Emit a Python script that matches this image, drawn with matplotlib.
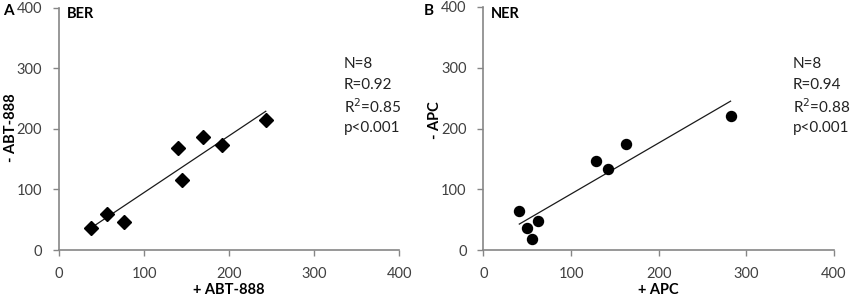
import numpy as np
import matplotlib.pyplot as plt

plt.rcParams['font.family'] = ['Lato', 'DejaVu Sans']

# Panel A: BER, +/- ABT-888
ber_plus = [38, 56, 76, 140, 144, 169, 192, 243]
ber_minus = [36, 60, 46, 169, 116, 187, 173, 214]
ber_stats = ["N=8", "R=0.92", "R$^2$=0.85", "p<0.001"]

# Panel B: NER, +/- APC
ner_plus = [41, 50, 55, 62, 129, 142, 163, 282]
ner_minus = [65, 37, 19, 47, 146, 133, 174, 221]
ner_stats = ["N=8", "R=0.94", "R$^2$=0.88", "p<0.001"]

ticks = [0, 100, 200, 300, 400]
AXIS_GREY = "#868686"
TEXT_GREY = "#404040"
W, H = 851, 302


def fx(px):
    return px / W


def fy(py):
    return 1 - py / H


def draw_panel(fig, ax, x, y, marker, letter, title, xlabel, ylabel, stats,
               x0, stats_x, ylab_x, ylab_y):
    ax.plot(x, y, linestyle="none", marker=marker, color="black",
            markersize=7.2 if marker == "o" else 6.8, zorder=3)

    # linear trendline over the data range
    slope, icpt = np.polyfit(x, y, 1)
    xs = np.array([min(x), max(x)])
    ax.plot(xs, slope * xs + icpt, color="#1a1a1a", linewidth=0.9, zorder=2)

    ax.set_xlim(0, 400)
    ax.set_ylim(0, 400)
    ax.set_xticks(ticks)
    ax.set_yticks(ticks)
    ax.tick_params(colors=AXIS_GREY, labelcolor=TEXT_GREY, labelsize=10.5,
                   length=4, width=1, direction="out", pad=8)
    for side in ("top", "right"):
        ax.spines[side].set_visible(False)
    for side in ("left", "bottom"):
        ax.spines[side].set_color(AXIS_GREY)
        ax.spines[side].set_linewidth(1.2)

    bbox = ax.get_position()
    fig.text((bbox.x0 + bbox.x1) / 2, fy(290), xlabel, fontsize=10.5,
             fontweight="bold", ha="center", va="center")
    fig.text(fx(ylab_x), fy(ylab_y), ylabel, fontsize=10.5,
             fontweight="bold", ha="center", va="center", rotation=90)

    fig.text(fx(x0), fy(11), letter, fontsize=11, fontweight="bold",
             ha="left", va="center")
    fig.text(bbox.x0 + fx(8), fy(14), title, fontsize=10.5,
             fontweight="bold", ha="left", va="center")

    for i, s in enumerate(stats):
        fig.text(fx(stats_x), fy(64 + i * 21.3), s, fontsize=11,
                 color="#222222", ha="left", va="center")


fig = plt.figure(figsize=(8.51, 3.02), dpi=100)
ax_a = fig.add_axes([0.0693, 0.172, 0.4, 0.803])
ax_b = fig.add_axes([0.568, 0.172, 0.412, 0.805])

draw_panel(fig, ax_a, ber_plus, ber_minus, "D", "A", "BER",
           "+ ABT-888", "- ABT-888", ber_stats, 3, 344, 11, 128)
draw_panel(fig, ax_b, ner_plus, ner_minus, "o", "B", "NER",
           "+ APC", "- APC", ner_stats, 424, 793, 435, 120)

fig.savefig("out.png", dpi=100)
